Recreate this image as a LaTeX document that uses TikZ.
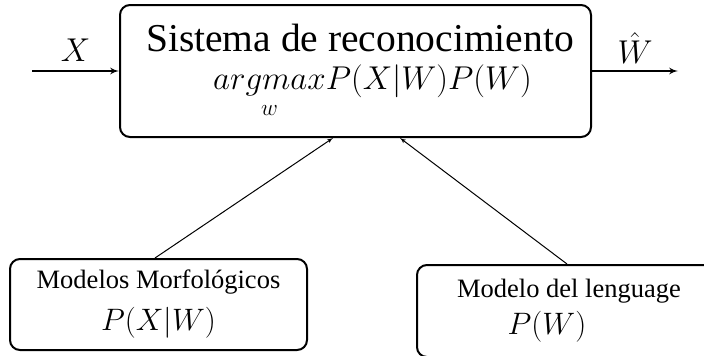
\RequirePackage{fix-cm}
\documentclass[tikz,border=0pt]{standalone}
\usepackage{amsmath}
\usepackage{fontspec}
\setmainfont{Liberation Serif}
\usetikzlibrary{arrows,positioning}

\newcommand{\bigtxt}{\fontsize{39.5pt}{38pt}\selectfont}
\newcommand{\mathtxt}{\fontsize{33pt}{38pt}\selectfont}
\newcommand{\lowtxt}{\fontsize{26.5pt}{42pt}\selectfont}
\newcommand{\lowmath}{\fontsize{31pt}{42pt}\selectfont}

\begin{document}
\begin{tikzpicture}[x=1pt,y=-1pt,>=latex',every node/.append style={align=center},
  blk/.style={draw, line width=2pt, rounded corners=10pt, inner sep=0pt},
  sig/.style={->, line width=2pt},
  feed/.style={->, line width=1pt}]
    \useasboundingbox (0,0) rectangle (704,356);
    \node [blk, minimum width=471pt, minimum height=132pt, font=\bigtxt] (sys) at (355.5,71)
        {\hspace*{9pt}Sistema de reconocimiento\\
         \hspace*{34pt}{\mathtxt$\displaystyle\underset{\rule{0pt}{16pt}w}{argmax}P(X|W)P(W)$}};
    \node [blk, minimum width=297pt, minimum height=91pt, font=\lowtxt, below=120pt of sys, xshift=-197pt] (morf)
        {Modelos Morfológicos\\ {\lowmath$P(X|W)$}};
    \node [blk, minimum width=304pt, minimum height=92pt, font=\fontsize{26.5pt}{37pt}\selectfont, below=126pt of sys, xshift=213.5pt] (leng)
        {Modelo del lenguage\\ {\lowmath$P(W)$}\hspace*{44pt}};
    \coordinate [left=87pt of sys.west] (xin);
    \coordinate [right=86pt of sys.east] (wout);
    \draw [sig] (xin) -- node [above=5pt, font=\mathtxt] {$X$} (sys.west);
    \draw [sig] (sys.east) -- node [above=3pt, font=\mathtxt] {$\hat{W}$} (wout);
    \draw [feed] ([xshift=-3.5pt]morf.north) -- ([xshift=-22.5pt]sys.south);
    \draw [feed] ([xshift=-2pt]leng.north) -- ([xshift=44.5pt]sys.south);
\end{tikzpicture}
\end{document}
